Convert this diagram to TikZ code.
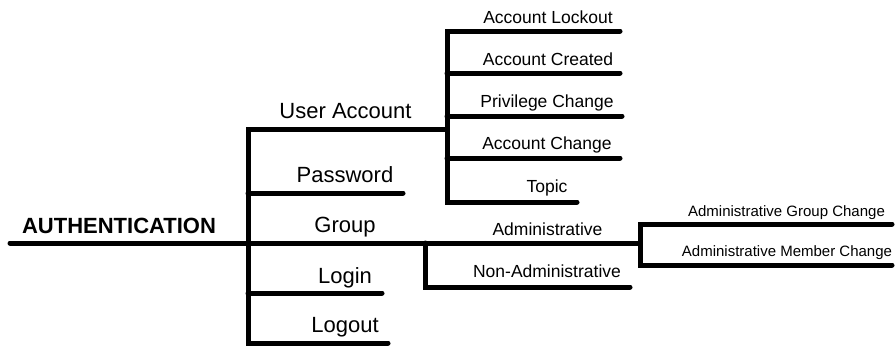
\documentclass[tikz,border=0pt]{standalone}
\usepackage{fontspec}
\setmainfont{Liberation Sans}
\begin{document}
\begin{tikzpicture}[x=1pt,y=-1pt,
  branch/.style={line width=5pt,line cap=round,line join=miter},
  lab/.style={anchor=base,inner sep=0pt,text=black},
  lone/.style={lab,font=\fontsize{22}{24}\selectfont},
  ltwo/.style={lab,font=\fontsize{17.5}{20}\selectfont},
  lthree/.style={lab,font=\fontsize{15}{18}\selectfont}]
\useasboundingbox (0,0) rectangle (896,346);
% coordinates
\coordinate (rootL) at (10,243);
\coordinate (spT) at (248,129);
\coordinate (spG) at (248,243);
\coordinate (spB) at (248,343);
\coordinate (uaJ) at (447,129);
\coordinate (uaT) at (447,31);
\coordinate (uaB) at (447,202);
\coordinate (lockE) at (620,31);
\coordinate (creaE) at (620,73);
\coordinate (creaJ) at (447,73);
\coordinate (privE) at (622,116);
\coordinate (privJ) at (447,116);
\coordinate (chgE) at (620,158);
\coordinate (chgJ) at (447,158);
\coordinate (topE) at (577,202);
\coordinate (pwJ) at (248,193);
\coordinate (pwE) at (403,193);
\coordinate (liJ) at (248,293);
\coordinate (liE) at (382,293);
\coordinate (loE) at (388,343);
\coordinate (naJ) at (425,243);
\coordinate (naB) at (425,287);
\coordinate (naE) at (630,287);
\coordinate (adJ) at (640,243);
\coordinate (adT) at (640,224);
\coordinate (adB) at (640,265);
\coordinate (agE) at (892,224);
\coordinate (amE) at (892,265);
% lines
\draw[branch] (rootL) -- (adJ);
\draw[branch] (uaJ) -- (spT) -- (spB) -- (loE);
\draw[branch] (pwJ) -- (pwE);
\draw[branch] (liJ) -- (liE);
\draw[branch] (lockE) -- (uaT) -- (uaB) -- (topE);
\draw[branch] (creaJ) -- (creaE);
\draw[branch] (privJ) -- (privE);
\draw[branch] (chgJ) -- (chgE);
\draw[branch] (naJ) -- (naB) -- (naE);
\draw[branch] (agE) -- (adT) -- (adB) -- (amE);
% labels
\node[lone,font=\fontsize{22}{24}\selectfont\bfseries] (auth) at (119,233) {AUTHENTICATION};
\node[lone] (ua) at (345.5,118) {User Account};
\node[lone] (pw) at (345,182) {Password};
\node[lone] (grp) at (345,232) {Group};
\node[lone] (login) at (345,283) {Login};
\node[lone] (logout) at (345,332) {Logout};
\node[ltwo] (lock) at (548,23) {Account Lockout};
\node[ltwo] (crea) at (548,65) {Account Created};
\node[ltwo] (priv) at (547,107) {Privilege Change};
\node[ltwo] (chg) at (547,149) {Account Change};
\node[ltwo] (topic) at (547,192) {Topic};
\node[ltwo] (adm) at (547.5,235) {Administrative};
\node[ltwo] (nadm) at (547,277) {Non-Administrative};
\node[lthree] (agc) at (786.5,216) {Administrative Group Change};
\node[lthree] (amc) at (787,256) {Administrative Member Change};
\end{tikzpicture}
\end{document}
